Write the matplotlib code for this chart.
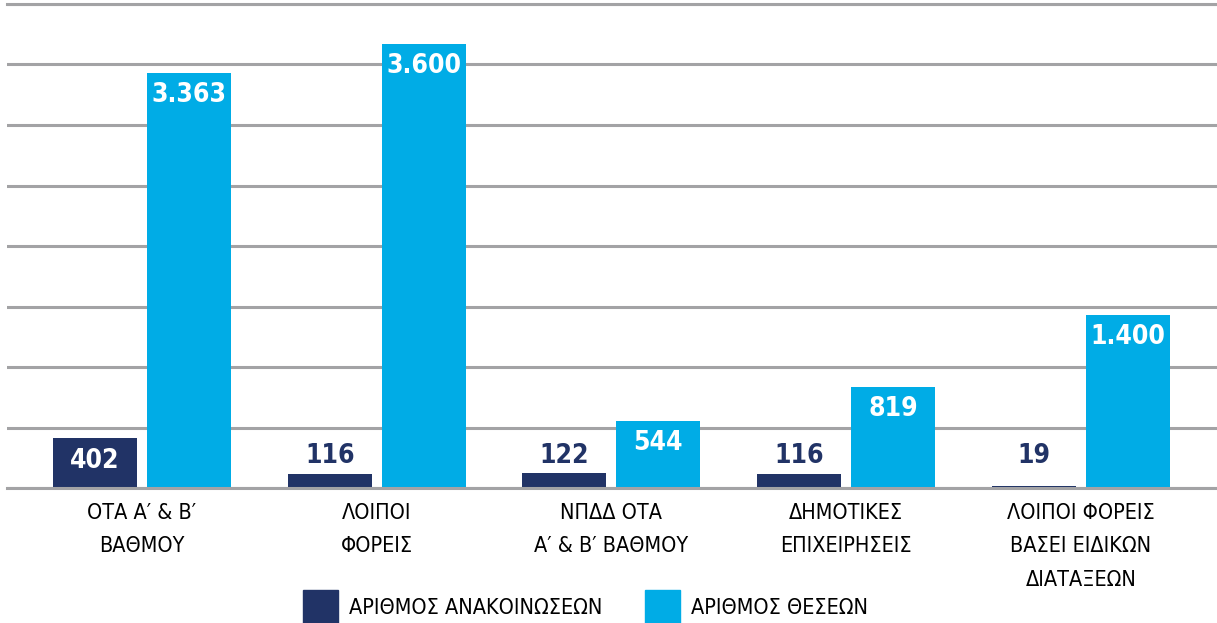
import matplotlib
matplotlib.use("Agg")
import matplotlib.pyplot as plt
from matplotlib.patches import Patch
import numpy as np

categories = ["ΟΤΑ Α' & Β'\nΒΑΘΜΟΥ", "ΛΟΙΠΟΙ\nΦΟΡΕΙΣ", "ΝΠΔΔ ΟΤΑ\nΑ' & Β' ΒΑΘΜΟΥ",
              "ΔΗΜΟΤΙΚΕΣ\nΕΠΙΧΕΙΡΗΣΕΙΣ", "ΛΟΙΠΟΙ ΦΟΡΕΙΣ\nΒΑΣΕΙ ΕΙΔΙΚΩΝ\nΔΙΑΤΑΞΕΩΝ"]
categories = [c.replace("'", "\u2032") for c in categories]
announcements = [402, 116, 122, 116, 19]
positions = [3363, 3600, 544, 819, 1400]
series_names = ["ΑΡΙΘΜΟΣ ΑΝΑΚΟΙΝΩΣΕΩΝ", "ΑΡΙΘΜΟΣ ΘΕΣΕΩΝ"]

dark = "#213366"
light = "#00ace6"
grid_c = "#a3a3a5"

plt.rcParams['font.family'] = ['DejaVu Sans']
plt.rcParams['font.stretch'] = 'condensed'

fig = plt.figure(figsize=(12.17, 6.23), dpi=100)
ax = fig.add_axes([7 / 1217, 135 / 623, 1 - 7 / 1217, 484 / 623])

x = np.arange(len(categories))
w = 0.358
off = 0.2
ax.bar(x - off, announcements, w, color=dark, zorder=3)
ax.bar(x + off, positions, w, color=light, zorder=3)

ymax = 3920
ax.set_ylim(0, ymax)
ax.set_xlim(-0.575, len(categories) - 1 + 0.58)
ax.set_yticks(np.linspace(0, ymax, 9))
ax.yaxis.grid(True, color=grid_c, lw=2.2, zorder=1)
ax.axhline(0, color=grid_c, lw=2.2, zorder=4, clip_on=False)
ax.axhline(ymax, color=grid_c, lw=2.2, zorder=1, clip_on=False)
ax.tick_params(axis='y', left=False, labelleft=False)
ax.tick_params(axis='x', bottom=False, pad=7)
for s in ax.spines.values():
    s.set_visible(False)
ax.set_xticks(x, categories, fontsize=15.5, linespacing=1.85)

def fmt(v):
    return f"{v:,}".replace(",", ".")

for xi, v in zip(x - off, announcements):
    if v > 300:
        ax.annotate(fmt(v), (xi, v), xytext=(0, -16), textcoords='offset points',
                    ha='center', va='center', color='white', fontsize=19, fontweight='bold', zorder=5)
    else:
        ax.annotate(fmt(v), (xi, 0), xytext=(0, 23), textcoords='offset points',
                    ha='center', va='center', color=dark, fontsize=19, fontweight='bold', zorder=5)
for xi, v in zip(x + off, positions):
    ax.annotate(fmt(v), (xi, v), xytext=(0, -16), textcoords='offset points',
                ha='center', va='center', color='white', fontsize=19, fontweight='bold', zorder=5)

handles = [Patch(color=dark), Patch(color=light)]
fig.legend(handles, series_names, loc='lower left', bbox_to_anchor=(303 / 1217, -0.001),
           ncol=2, frameon=False, fontsize=15.5, handlelength=1.63, handleheight=2.0,
           handletextpad=0.5, columnspacing=1.98, borderpad=0, borderaxespad=0)

fig.savefig("out.png", dpi=100)
